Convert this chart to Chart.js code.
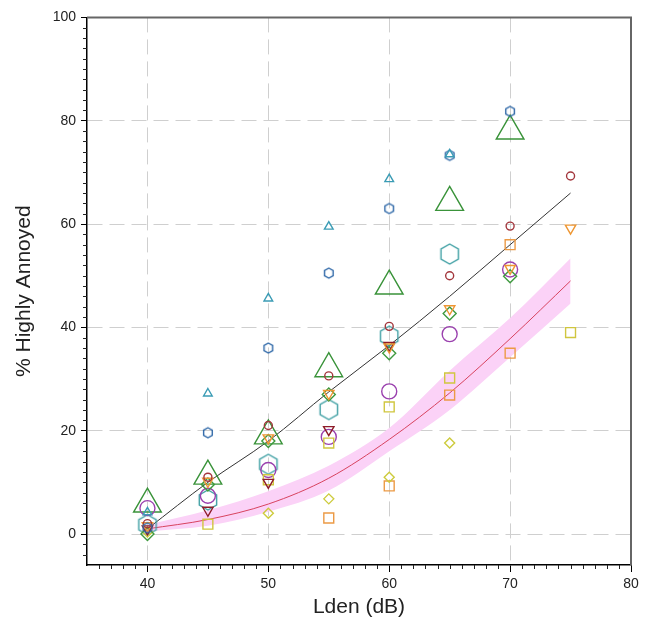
<!DOCTYPE html>
<html>
<head>
<meta charset="utf-8">
<script src="https://cdn.jsdelivr.net/npm/chart.js@4/dist/chart.umd.min.js"></script>
<style>
  body { margin: 0; background: #fff; }
  #wrap { width: 652px; height: 630px; }
</style>
</head>
<body>
<div id="wrap"><canvas id="annoyance"></canvas></div>
<script>
// noise levels (dB) that every study was grouped into
const levels = [40, 45, 50, 55, 60, 65, 70, 75];
const xTickValues = [40, 50, 60, 70, 80];
const yTickValues = [0, 20, 40, 60, 80, 100];

// fitted curves
const fitBlack = [1, 10, 18, 27.5, 36.5, 46, 56, 66];
const fitRed = [1, 2.8, 5.8, 10.8, 18.3, 27.3, 37.8, 49];
const bandUpper = [1.8, 4.6, 8.3, 13.2, 20.5, 31.6, 41.8, 53.4];
const bandLower = [0.5, 1.6, 4.3, 8.4, 16, 24, 34.2, 44.6];

// individual studies (% highly annoyed), null = no value at that level
const tealTriangle = [4.2, 27.2, 45.6, 59.5, 68.7, 73.5, null, null];
const blueHexagon = [1.2, 19.6, 36, 50.5, 63, 73.3, 81.8, null];
const greenTriangle = [5.8, 11.2, 19, 32, 48, 64.2, 78, null];
const purpleCircle = [5, 7.4, 12.4, 18.8, 27.6, 38.7, 51.2, null];
const tealHexagon = [1.8, 6.6, 13.5, 24.1, 38.3, 54.2, null, null];
const redCircle = [2, 11, 21, 30.6, 40.2, 50, 59.6, 69.3];
const orangeDown = [1.6, 10.2, 18.6, 27.2, 36.2, 43.6, 51.4, 59.2];
const darkRedDown = [1, 4.6, 10, 20.2, 36.5, null, null, null];
const greenDiamond = [0, 9.6, 18, 27, 35, 42.7, 49.9, null];
const yellowDiamond = [0.4, null, 4, 6.8, 11, 17.6, null, null];
const orangeSquare = [null, null, null, 3.1, 9.3, 26.9, 35, null];
const orangeSquareB = [null, null, null, null, null, null, 56, null];
const yellowSquare = [null, 1.9, 10.5, 17.6, 24.6, 30.2, null, 39];

function pts(arr) {
    return levels.map((x, i) => ({ x, y: arr[i] })).filter(p => p.y !== null);
}

function hexagon(r, color) {
    const c = document.createElement("canvas");
    const s = Math.ceil(2 * r + 4);
    c.width = s; c.height = s;
    const g = c.getContext("2d");
    g.strokeStyle = color;
    g.lineWidth = 1.4;
    g.beginPath();
    for (let k = 0; k < 6; k++) {
        const a = Math.PI / 3 * k - Math.PI / 2;
        const px = s / 2 + r * Math.cos(a), py = s / 2 + r * Math.sin(a);
        k ? g.lineTo(px, py) : g.moveTo(px, py);
    }
    g.closePath();
    g.stroke();
    return c;
}

function marker(data, color, style, radius, rotation) {
    return {
        data: pts(data),
        pointStyle: style,
        pointRadius: radius,
        pointHoverRadius: radius,
        pointRotation: rotation || 0,
        borderColor: color,
        backgroundColor: "rgba(0,0,0,0)",
        pointBorderWidth: 1.4,
        showLine: false
    };
}

function curve(data, color, extra) {
    return Object.assign({
        data: pts(data),
        borderColor: color,
        borderWidth: 1,
        pointRadius: 0,
        showLine: true,
        cubicInterpolationMode: "monotone",
        fill: false
    }, extra || {});
}

const frameAndMinor = {
    id: "frameAndMinor",
    afterDraw(chart) {
        const { ctx, chartArea: a, scales: { x, y } } = chart;
        ctx.save();
        ctx.strokeStyle = "#222";
        ctx.lineWidth = 1;
        ctx.beginPath();
        for (let v = 36; v < 80; v++) {
            if (v % 10 === 0) continue;
            const px = Math.round(x.getPixelForValue(v)) + 0.5;
            ctx.moveTo(px, a.bottom);
            ctx.lineTo(px, a.bottom + 4);
        }
        for (let v = -4; v < 100; v += 2) {
            if (v % 20 === 0) continue;
            const py = Math.round(y.getPixelForValue(v)) + 0.5;
            ctx.moveTo(a.left, py);
            ctx.lineTo(a.left - 4, py);
        }
        ctx.stroke();
        ctx.strokeStyle = "#666";
        ctx.lineWidth = 2;
        ctx.beginPath();
        ctx.moveTo(a.left, a.top);
        ctx.lineTo(a.right, a.top);
        ctx.lineTo(a.right, a.bottom);
        ctx.stroke();
        ctx.restore();
    }
};

const font = "'Liberation Sans', Arial, sans-serif";

new Chart(document.getElementById("annoyance"), {
    type: "scatter",
    data: {
        datasets: [
            marker(tealTriangle, "#3b9cb5", "triangle", 5),
            marker(blueHexagon, "#2f68a8", hexagon(5, "#2f68a8"), 5),
            marker(redCircle, "#a3363c", "circle", 4),
            marker(orangeDown, "#ee9632", "triangle", 6, 180),
            marker(darkRedDown, "#8e1d2a", "triangle", 6, 180),
            marker(greenDiamond, "#3f9a3f", "rectRot", 6.5),
            marker(yellowDiamond, "#cdcb3c", "rectRot", 5),
            marker(orangeSquare, "#ec9a45", "rect", 7),
            marker(orangeSquareB, "#ec9a45", "rect", 7),
            marker(yellowSquare, "#d0c63f", "rect", 7),
            marker(purpleCircle, "#9a40ae", "circle", 7.5),
            marker(tealHexagon, "#3e9fa3", hexagon(10, "#3e9fa3"), 10),
            marker(greenTriangle, "#3a933a", "triangle", 16),
            curve(fitBlack, "#333333"),
            curve(fitRed, "#d8435f"),
            curve(bandUpper, "rgba(0,0,0,0)", { borderWidth: 0, fill: "+1", backgroundColor: "#fbd2f7" }),
            curve(bandLower, "rgba(0,0,0,0)", { borderWidth: 0 })
        ]
    },
    options: {
        responsive: true,
        maintainAspectRatio: false,
        animation: false,
        layout: { padding: { top: 16, right: 21, left: 0, bottom: 0 } },
        plugins: { legend: { display: false }, tooltip: { enabled: false } },
        scales: {
            x: {
                min: 35,
                max: 80,
                afterBuildTicks: s => { s.ticks = xTickValues.map(v => ({ value: v })); },
                afterFit: s => { s.height = 65; },
                border: { color: "#000", width: 1.5, dash: [15, 7] },
                grid: {
                    color: c => (c.tick && c.tick.value < 80 ? "#cfcfcf" : "rgba(0,0,0,0)"),
                    lineWidth: 1,
                    tickColor: "#000",
                    tickLength: 7
                },
                ticks: { color: "#222", padding: 4, font: { family: font, size: 14 } },
                title: {
                    display: true,
                    text: "Lden (dB)",
                    color: "#222",
                    padding: { top: 0, bottom: 10 },
                    font: { family: font, size: 21 }
                }
            },
            y: {
                min: -6,
                max: 100,
                afterBuildTicks: s => { s.ticks = yTickValues.map(v => ({ value: v })); },
                afterFit: s => { s.width = 87; },
                border: { color: "#000", width: 1.5, dash: [15, 7] },
                grid: {
                    color: c => (c.tick && c.tick.value < 100 ? "#cfcfcf" : "rgba(0,0,0,0)"),
                    lineWidth: 1,
                    tickColor: "#000",
                    tickLength: 6
                },
                ticks: { color: "#222", padding: 5, font: { family: font, size: 14 } },
                title: {
                    display: true,
                    text: "% Highly Annoyed",
                    color: "#222",
                    padding: { top: 12, bottom: 0 },
                    font: { family: font, size: 21 }
                }
            }
        }
    },
    plugins: [frameAndMinor]
});
</script>
</body>
</html>
